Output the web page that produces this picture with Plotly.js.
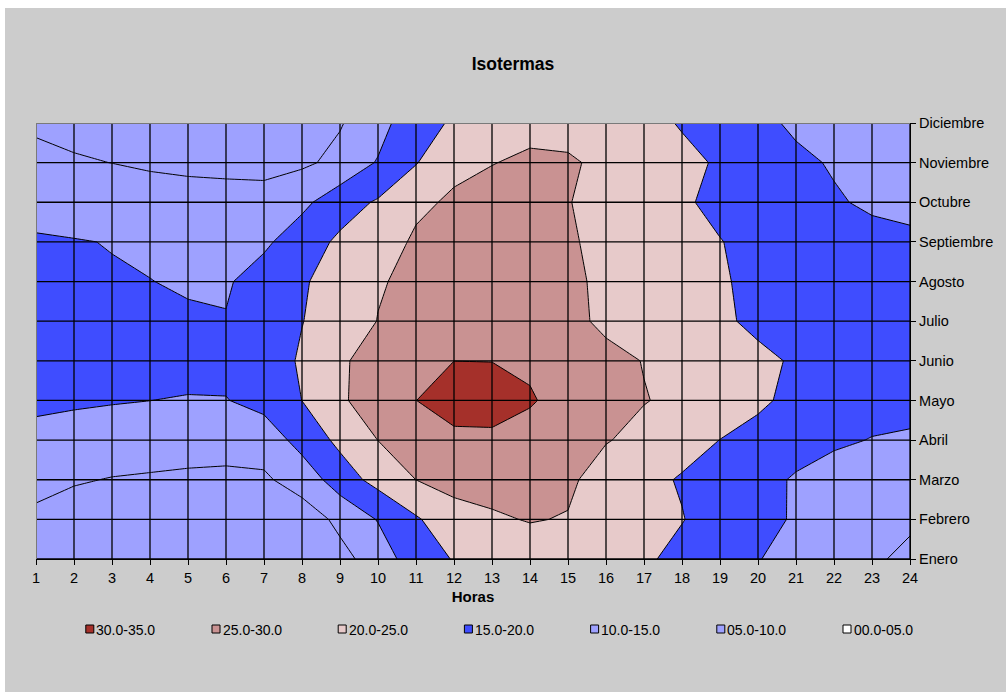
<!DOCTYPE html>
<html>
<head>
<meta charset="utf-8">
<script src="https://cdn.plot.ly/plotly-3.0.1.min.js"></script>
<style>
  html, body { margin: 0; padding: 0; background: #ffffff; }
  #chart { position: absolute; left: 5px; top: 8px; width: 1001px; height: 684px; }
</style>
</head>
<body>
<div id="chart"></div>
<script>
// ---- data -------------------------------------------------------------
const hours = [1,2,3,4,5,6,7,8,9,10,11,12,13,14,15,16,17,18,19,20,21,22,23,24];
const months = ['Enero','Febrero','Marzo','Abril','Mayo','Junio','Julio','Agosto','Septiembre','Octubre','Noviembre','Diciembre'];

const tEnero      = [7.5, 7.2, 7.0, 6.8, 6.6, 6.5, 7.0, 8.0, 8.8, 11.8, 18.2, 20.2, 21.5, 22.0, 22.5, 22.0, 20.8, 18.5, 17.0, 15.2, 13.2, 11.5, 10.6, 9.1];
const tFebrero    = [9.3, 7.9, 7.5, 7.2, 7.0, 6.9, 7.1, 7.81, 10.94, 15.3, 19.44, 23.17, 24.3, 25.3, 24.7, 23.5, 22.0, 20.2, 17.7, 16.2, 14.6, 13.2, 12.1, 10.65];
const tMarzo      = [11.0, 10.4, 9.8, 9.47, 9.1, 8.87, 9.4, 11.8, 17.62, 21.59, 25.02, 26.5, 27.0, 26.8, 26.0, 22.5, 21.3, 19.6, 18.5, 16.74, 14.45, 12.57, 11.8, 11.2];
const tAbril      = [13.27, 12.78, 12.57, 12.4, 12.2, 12.1, 11.8, 16.96, 21.07, 25.05, 27.2, 28.4, 28.6, 27.4, 26.3, 25.3, 23.5, 21.8, 19.95, 18.5, 17.2, 15.9, 14.8, 14.4];
const tMayo       = [16.2, 15.7, 15.3, 15.02, 14.7, 14.8, 16.8, 20.03, 24.2, 27.8, 29.95, 33.0, 33.0, 30.6, 27.6, 25.8, 25.2, 24.0, 22.5, 20.8, 18.8, 17.8, 17.0, 16.5];
const tJunio      = [17.5, 17.3, 17.0, 16.9, 16.7, 16.6, 17.8, 20.5, 24.3, 27.0, 28.8, 29.98, 29.9, 29.0, 27.8, 26.5, 24.83, 23.5, 22.0, 20.8, 19.6, 19.0, 18.6, 18.3];
const tJulio      = [16.5, 16.3, 16.1, 16.0, 15.5, 15.26, 17.5, 19.9, 21.9, 25.13, 27.0, 28.6, 29.4, 29.3, 26.5, 23.9, 22.5, 21.5, 20.6, 19.24, 18.5, 18.0, 17.6, 17.2];
const tAgosto     = [15.6, 15.4, 15.23, 15.06, 14.6, 14.43, 17.3, 19.2, 23.2, 24.6, 26.1, 28.5, 29.3, 29.0, 26.0, 24.0, 22.5, 21.5, 20.6, 18.6, 17.8, 17.2, 16.8, 16.5];
const tSeptiembre = [15.3, 15.15, 14.9, 14.4, 14.3, 14.1, 14.1, 17.8, 20.8, 23.5, 25.45, 27.5, 28.5, 28.5, 25.7, 23.4, 22.0, 21.0, 20.1, 19.1, 18.0, 17.0, 16.2, 15.8];
const tOctubre    = [14.0, 13.5, 13.2, 13.0, 12.9, 12.8, 12.8, 13.8, 18.0, 20.5, 24.4, 25.43, 27.5, 27.5, 25.3, 22.3, 21.3, 20.4, 19.25, 17.8, 16.8, 15.4, 14.4, 13.9];
const tNoviembre  = [11.2, 10.5, 9.95, 9.15, 8.45, 8.05, 7.7, 9.25, 11.13, 15.43, 19.73, 24.3, 24.8, 26.1, 25.8, 23.6, 22.5, 20.8, 19.65, 17.5, 15.8, 14.65, 13.5, 12.8];
const tDiciembre  = [9.3, 8.5, 8.1, 8.0, 7.9, 7.8, 7.9, 8.6, 9.7, 12.7, 19.1, 20.28, 21.5, 23.1, 22.7, 22.0, 21.0, 19.75, 18.0, 16.0, 14.33, 13.2, 12.5, 12.0];

// bands from lowest to highest
const bandLabels = ['00.0-05.0','05.0-10.0','10.0-15.0','15.0-20.0','20.0-25.0','25.0-30.0','30.0-35.0'];
const bandLevels = [0, 5, 10, 15, 20, 25, 30, 35];

// ---- styles -----------------------------------------------------------
const bandColors = ['#ffffff', '#9ea1ff', '#9ea1ff', '#3f4dff', '#e7caca', '#c99292', '#a5302a'];
const FONT = 'Arial, "Liberation Sans", sans-serif';

// ---- build ------------------------------------------------------------
const monthIdx = months.map((m, i) => i + 1);
const z = [tEnero, tFebrero, tMarzo, tAbril, tMayo, tJunio, tJulio, tAgosto, tSeptiembre, tOctubre, tNoviembre, tDiciembre];

// step colorscale robust to how band centres are mapped
const cuts = [0, 1.5/14, 3.5/14, 5.5/14, 7.5/14, 9.5/14, 11.5/14, 1];
const colorscale = [];
for (let i = 0; i < bandColors.length; i++) {
  colorscale.push([cuts[i], bandColors[i]]);
  colorscale.push([cuts[i + 1], bandColors[i]]);
}

const trace = {
  type: 'contour',
  x: hours,
  y: monthIdx,
  z: z,
  autocontour: false,
  contours: { start: bandLevels[1], end: bandLevels[7], size: 5, coloring: 'fill', showlines: true },
  colorscale: colorscale,
  line: { color: '#000000', width: 1, smoothing: 0 },
  showscale: false,
  hoverinfo: 'x+y+z'
};

// plot area in page pixels (for legend placement)
const PX0 = 36, PX1 = 910, PY0 = 123, PY1 = 559;
const px2x = px => (px - PX0) / (PX1 - PX0);
const py2y = py => (PY1 - py) / (PY1 - PY0);

const shapes = [];
// grid lines
hours.forEach(h => shapes.push({ type: 'line', xref: 'x', yref: 'y', x0: h, x1: h, y0: monthIdx[0], y1: monthIdx[monthIdx.length - 1],
  line: { color: '#000000', width: 1.3 }, layer: 'above' }));
monthIdx.forEach(m => shapes.push({ type: 'line', xref: 'x', yref: 'y', x0: hours[0], x1: hours[hours.length - 1], y0: m, y1: m,
  line: { color: '#000000', width: 1.3 }, layer: 'above' }));
// grey left and top frame
shapes.push({ type: 'line', xref: 'x', yref: 'y', x0: hours[0], x1: hours[0], y0: monthIdx[0], y1: monthIdx[11], line: { color: '#7a7a7a', width: 2 }, layer: 'above' });
shapes.push({ type: 'line', xref: 'x', yref: 'y', x0: hours[0], x1: hours[23], y0: monthIdx[11], y1: monthIdx[11], line: { color: '#7a7a7a', width: 2 }, layer: 'above' });

// legend (highest band first, like the original)
const annotations = [];
const legendOrder = bandLabels.map((l, i) => i).reverse();
legendOrder.forEach((bi, k) => {
  const left = 85.8 + k * 126.2;
  shapes.push({ type: 'rect', xref: 'paper', yref: 'paper',
    x0: px2x(left), x1: px2x(left + 8), y0: py2y(633), y1: py2y(625),
    fillcolor: bandColors[bi], line: { color: '#000000', width: 1 } });
  annotations.push({ xref: 'paper', yref: 'paper', x: px2x(left + 8.5), y: py2y(629.5),
    xanchor: 'left', yanchor: 'middle', showarrow: false, text: bandLabels[bi],
    font: { family: FONT, size: 14, color: '#000000' } });
});

const layout = {
  width: 1001, height: 684,
  paper_bgcolor: '#cccccc',
  plot_bgcolor: bandColors[1],
  margin: { l: 31, r: 96, t: 115, b: 133, pad: 0 },
  showlegend: false,
  title: { text: '<b>Isotermas</b>', font: { family: FONT, size: 17.5, color: '#000000' },
           x: 0.5075, xanchor: 'center', y: 0.918, yanchor: 'middle' },
  xaxis: {
    range: [hours[0], hours[hours.length - 1]],
    tickvals: hours, ticktext: hours.map(String),
    ticks: 'outside', ticklen: 5, tickcolor: '#000000', tickwidth: 1,
    showgrid: false, zeroline: false, showline: true, linecolor: '#000000', linewidth: 1.3,
    tickfont: { family: FONT, size: 14.5, color: '#000000' },
    title: { text: '<b>Horas</b>', font: { family: FONT, size: 15, color: '#000000' }, standoff: 6 },
    automargin: false
  },
  yaxis: {
    range: [monthIdx[0], monthIdx[monthIdx.length - 1]],
    side: 'right',
    tickvals: monthIdx, ticktext: months,
    ticks: 'outside', ticklen: 5, tickcolor: '#000000', tickwidth: 1,
    showgrid: false, zeroline: false, showline: true, linecolor: '#000000', linewidth: 1.3,
    tickfont: { family: FONT, size: 14.5, color: '#000000' },
    automargin: false
  },
  shapes: shapes,
  annotations: annotations
};

Plotly.newPlot('chart', [trace], layout, { displayModeBar: false, staticPlot: false });
</script>
</body>
</html>
